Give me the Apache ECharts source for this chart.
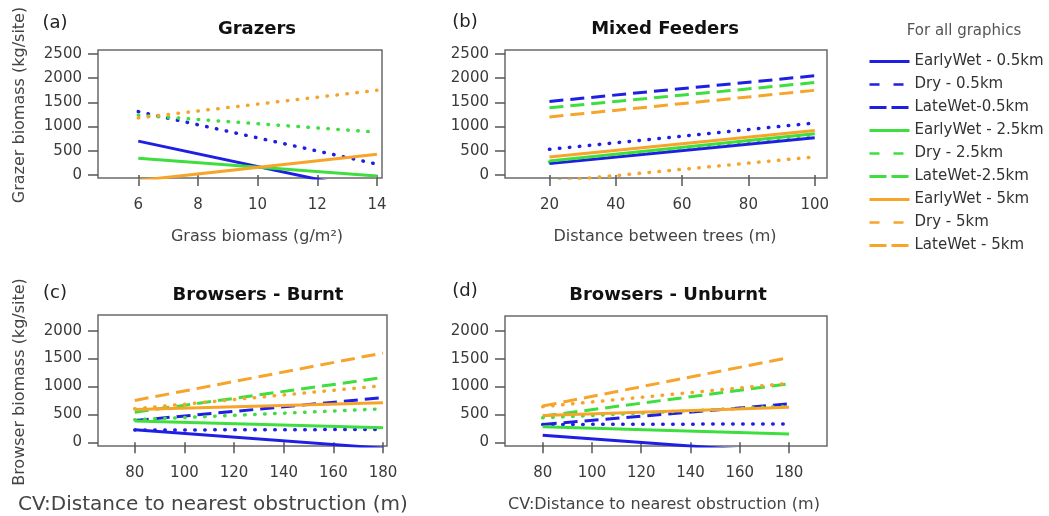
<!DOCTYPE html>
<html>
<head>
<meta charset="utf-8">
<script src="https://cdn.jsdelivr.net/npm/echarts@6/dist/echarts.min.js"></script>
<style>
  html, body { margin: 0; padding: 0; background: #ffffff; }
  #chart { width: 1049px; height: 516px; }
</style>
</head>
<body>
<div id="chart"></div>
<script>
// ---------- data ----------
const seriesNames = ['EarlyWet - 0.5km', 'Dry - 0.5km', 'LateWet-0.5km',
                     'EarlyWet - 2.5km', 'Dry - 2.5km', 'LateWet-2.5km',
                     'EarlyWet - 5km', 'Dry - 5km', 'LateWet - 5km'];

// panel (a) Grazers: x = grass biomass
const grazersX = [6, 14];
const grazersStart = [700, 1310, null, 345, 1235, null, -115, 1180, null];
const grazersEnd   = [-350, 225, null, -20, 885, null, 430, 1750, null];

// panel (b) Mixed feeders: x = distance between trees
const mixedX = [20, 100];
const mixedStart = [235, 530, 1520, 290, 270, 1390, 370, -140, 1200];
const mixedEnd   = [770, 1075, 2050, 850, 830, 1910, 920, 375, 1750];

// panel (c) Browsers - Burnt: x = CV distance to nearest obstruction
const burntX = [80, 180];
const burntStart = [225, 220, 390, 380, 405, 540, 590, 600, 750];
const burntEnd   = [-105, 230, 800, 260, 600, 1160, 710, 1015, 1600];

// panel (d) Browsers - Unburnt
const unburntX = [80, 180];
const unburntStart = [125, 320, 320, 280, 440, 470, 480, 640, 650];
const unburntEnd   = [-195, 330, 690, 150, 650, 1050, 630, 1060, 1520];

// tick labels
const grazerXTicks = [6, 8, 10, 12, 14];
const mixedXTicks = [20, 40, 60, 80, 100];
const browserXTicks = [80, 100, 120, 140, 160, 180];
const topYTicks = [0, 500, 1000, 1500, 2000, 2500];
const bottomYTicks = [0, 500, 1000, 1500, 2000];

// ---------- styles ----------
const colors = ['#1f1fe4', '#1f1fe4', '#1f1fe4',
                '#3ede3e', '#3ede3e', '#3ede3e',
                '#f7a42a', '#f7a42a', '#f7a42a'];
const kinds = ['solid', 'dot', 'long', 'solid', 'dot', 'long', 'solid', 'dot', 'long'];
function lineStyleFor(j) {
  const k = kinds[j];
  if (k === 'solid') return { color: colors[j], width: 3, type: 'solid' };
  if (k === 'dot') return { color: colors[j], width: 3.5, type: [0.5, 9.5], cap: 'round' };
  return { color: colors[j], width: 3, type: [14, 7] };
}
function legendLineFor(j) {
  const k = kinds[j];
  if (k === 'solid') return { color: colors[j], width: 3, type: 'solid' };
  if (k === 'dot') return { color: colors[j], width: 2.5, type: [10, 14], cap: 'butt' };
  return { color: colors[j], width: 3, type: [17, 5], cap: 'butt' };
}

const FONT = '"DejaVu Sans", "Liberation Sans", sans-serif';

const panels = [
  { x: grazersX, s: grazersStart, e: grazersEnd, xt: grazerXTicks, yt: topYTicks,
    grid: { left: 98, top: 50, width: 284, height: 128 }, xmin: 4.65, xmax: 14.17, ymin: -62, ymax: 2583 },
  { x: mixedX, s: mixedStart, e: mixedEnd, xt: mixedXTicks, yt: topYTicks,
    grid: { left: 505, top: 50, width: 322, height: 128 }, xmin: 6.6, xmax: 103.7, ymin: -62, ymax: 2583 },
  { x: burntX, s: burntStart, e: burntEnd, xt: browserXTicks, yt: bottomYTicks,
    grid: { left: 98, top: 315, width: 289, height: 131 }, xmin: 65.2, xmax: 181.6, ymin: -66, ymax: 2281 },
  { x: unburntX, s: unburntStart, e: unburntEnd, xt: browserXTicks, yt: bottomYTicks,
    grid: { left: 505, top: 316, width: 322, height: 130 }, xmin: 64.7, xmax: 195.4, ymin: -66, ymax: 2266 }
];

const plain = v => String(Math.round(v));

const grids = [], xAxes = [], yAxes = [], series = [];
panels.forEach((p, i) => {
  grids.push(Object.assign({ show: true, borderColor: '#6a6a6a', borderWidth: 1.5, backgroundColor: 'transparent' }, p.grid));
  xAxes.push({
    type: 'value', gridIndex: i, min: p.xmin, max: p.xmax,
    axisLine: { show: false },
    splitLine: { show: false },
    axisTick: { show: true, length: 11, inside: false, customValues: p.xt, lineStyle: { color: '#555', width: 1.5 } },
    axisLabel: { customValues: p.xt, formatter: plain, margin: 20, color: '#3a3a3a', fontFamily: FONT, fontSize: 15 }
  });
  yAxes.push({
    type: 'value', gridIndex: i, min: p.ymin, max: p.ymax,
    axisLine: { show: false },
    splitLine: { show: false },
    axisTick: { show: true, length: 10, inside: false, customValues: p.yt, lineStyle: { color: '#555', width: 1.5 } },
    axisLabel: { customValues: p.yt, formatter: plain, margin: 16, color: '#3a3a3a', fontFamily: FONT, fontSize: 15 }
  });
  seriesNames.forEach((name, j) => {
    if (p.s[j] === null) return;
    series.push({
      name: name, type: 'line', xAxisIndex: i, yAxisIndex: i,
      data: [[p.x[0], p.s[j]], [p.x[1], p.e[j]]],
      symbol: 'none', showSymbol: false, clip: true, silent: true,
      lineStyle: lineStyleFor(j), itemStyle: { color: colors[j] },
      z: kinds[j] === 'solid' ? 3 : 2
    });
  });
});

function txt(text, x, y, size, opts) {
  opts = opts || {};
  return {
    type: 'text', x: x, y: y, rotation: opts.rot || 0, silent: true,
    style: {
      text: text, fill: opts.color || '#222',
      font: (opts.bold ? 'bold ' : '') + size + 'px ' + FONT,
      textAlign: 'center', textVerticalAlign: 'middle'
    }
  };
}

const graphics = [
  txt('(a)', 55, 23, 18, { color: '#222' }),
  txt('Grazers', 257, 29, 18, { bold: true, color: '#111' }),
  txt('(b)', 465, 22, 18, { color: '#222' }),
  txt('Mixed Feeders', 665, 29, 18, { bold: true, color: '#111' }),
  txt('(c)', 55, 293, 18, { color: '#222' }),
  txt('Browsers - Burnt', 258, 295, 18, { bold: true, color: '#111' }),
  txt('(d)', 465, 291, 18, { color: '#222' }),
  txt('Browsers - Unburnt', 668, 295, 18, { bold: true, color: '#111' }),
  txt('Grazer biomass (kg/site)', 20, 105, 16, { rot: Math.PI / 2, color: '#444' }),
  txt('Browser biomass (kg/site)', 20, 382, 16, { rot: Math.PI / 2, color: '#444' }),
  txt('Grass biomass (g/m²)', 257, 237, 16, { color: '#444' }),
  txt('Distance between trees (m)', 665, 237, 16, { color: '#444' }),
  txt('CV:Distance to nearest obstruction (m)', 213, 505, 20, { color: '#444' }),
  txt('CV:Distance to nearest obstruction (m)', 664, 505, 16, { color: '#444' }),
  txt('For all graphics', 964, 31, 15, { color: '#555' })
];

const chart = echarts.init(document.getElementById('chart'), null, { renderer: 'canvas' });
chart.setOption({
  animation: false,
  backgroundColor: '#ffffff',
  grid: grids,
  xAxis: xAxes,
  yAxis: yAxes,
  series: series,
  legend: {
    orient: 'vertical', left: 863, top: 49,
    itemWidth: 40, itemHeight: 14, itemGap: 8,
    selectedMode: false,
    textStyle: { fontFamily: FONT, fontSize: 15, color: '#333', padding: [0, 0, 0, 0] },
    itemStyle: { opacity: 0 },
    data: seriesNames.map((n, j) => ({ name: n, lineStyle: legendLineFor(j), itemStyle: { opacity: 0 } }))
  },
  graphic: graphics
});
</script>
</body>
</html>
